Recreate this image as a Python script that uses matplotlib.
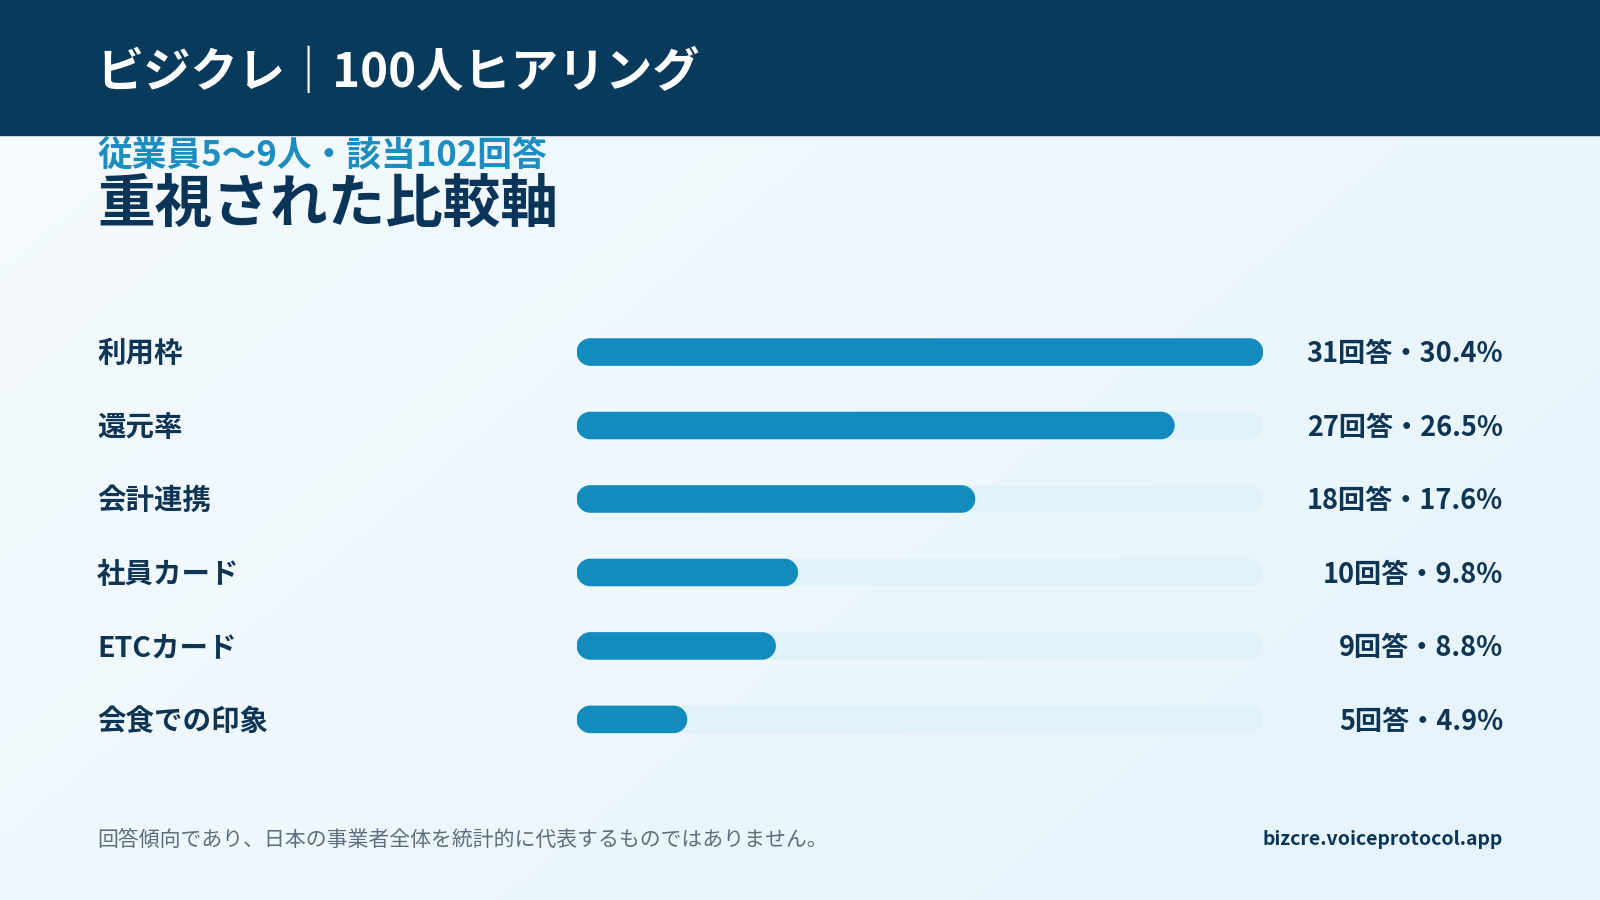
import numpy as np
import matplotlib
matplotlib.use("Agg")
import matplotlib.pyplot as plt
from matplotlib.patches import Polygon, Rectangle
import matplotlib.transforms as mtransforms

plt.rcParams['font.family'] = ['Noto Sans CJK JP', 'DejaVu Sans']

# ---- data ----
header_title = "ビジクレ｜100人ヒアリング"
subtitle = "従業員5〜9人・該当102回答"
title = "重視された比較軸"
categories = ["利用枠", "還元率", "会計連携", "社員カード", "ETCカード", "会食での印象"]
counts = [31, 27, 18, 10, 9, 5]
percents = [30.4, 26.5, 17.6, 9.8, 8.8, 4.9]
footer_note = "回答傾向であり、日本の事業者全体を統計的に代表するものではありません。"
footer_url = "bizcre.voiceprotocol.app"

# ---- colors ----
NAVY = "#083A5C"
BAR = "#128BBF"
TRACK = "#E1F1F9"
TITLE_C = "#0B3558"
SUB_C = "#1B8DC1"
TEXT_C = "#0F3555"
GRAY = "#5E6E7E"

W, H = 1600, 900
REFW, REFH = 1568, 882
fig = plt.figure(figsize=(W / 100, H / 100), dpi=100)

def fx(px):
    return px / REFW

def fy(py):
    return 1 - py / REFH

# background gradient
bg = fig.add_axes([0, 0, 1, 1])
bg.set_axis_off()
c1 = np.array([0xF6, 0xFB, 0xFE]) / 255
c2 = np.array([0xE5, 0xF3, 0xFB]) / 255
yy, xx = np.mgrid[0:1:200j, 0:1:300j]
t = (xx * 0.6 + yy * 0.4)
img = c1[None, None, :] * (1 - t[..., None]) + c2[None, None, :] * t[..., None]
bg.imshow(img, extent=[0, 1, 0, 1], aspect='auto', origin='upper')
bg.set_xlim(0, 1)
bg.set_ylim(0, 1)
bg.add_patch(Rectangle((0, fy(132)), 1, 1 - fy(132), color=NAVY, transform=bg.transAxes, zorder=2))

fig.text(fx(95), fy(72), header_title, color="white", fontsize=34, fontweight="bold",
         va="center", ha="left")
fig.text(fx(95), fy(153), subtitle, color=SUB_C, fontsize=25, fontweight="bold",
         va="center", ha="left")
fig.text(fx(95), fy(201), title, color=TITLE_C, fontsize=41.5, fontweight="bold",
         va="center", ha="left")

# bar axes
x0, x1 = 565, 1238
row_top, row_bot = 309, 741
ax = fig.add_axes([fx(x0), fy(row_bot), fx(x1 - x0), (row_bot - row_top) / REFH])
ax.set_axis_off()
n = len(categories)
vmax = max(counts)
ax.set_xlim(0, vmax)
ax.set_ylim(n - 0.5, -0.5)

px_per_x = (x1 - x0) * W / REFW / vmax
px_per_y = (row_bot - row_top) * H / REFH / n
bar_h = 27 / 72
rx = (bar_h * px_per_y / 2) / px_per_x  # end-cap radius in x units

def rbar(x, y, w, h, color, z):
    th_r = np.linspace(-np.pi / 2, np.pi / 2, 40)
    th_l = np.linspace(np.pi / 2, 3 * np.pi / 2, 40)
    right = np.column_stack([x + w - rx + rx * np.cos(th_r), y + h / 2 * np.sin(th_r)])
    left = np.column_stack([x + rx + rx * np.cos(th_l), y + h / 2 * np.sin(th_l)])
    pts = np.vstack([right, left])
    ax.add_patch(Polygon(pts, closed=True, facecolor=color, edgecolor="none", zorder=z))

trans = mtransforms.blended_transform_factory(fig.transFigure, ax.transData)
for i, (cat, c, p) in enumerate(zip(categories, counts, percents)):
    rbar(0, i, vmax, bar_h, TRACK, 1)
    rbar(0, i, c, bar_h, BAR, 2)
    fig.text(fx(95), i + 0.03, cat, transform=trans, color=TEXT_C, fontsize=20.5,
             fontweight="bold", va="center", ha="left")
    fig.text(fx(1473), i + 0.03, f"{c}回答・{p}%", transform=trans, color=TEXT_C,
             fontsize=19.5, fontweight="bold", va="center", ha="right")

fig.text(fx(95), fy(823), footer_note, color=GRAY, fontsize=15, va="center", ha="left")
fig.text(fx(1473), fy(823), footer_url, color=TITLE_C, fontsize=14, fontweight="bold",
         va="center", ha="right")

fig.savefig("out.png", dpi=100)
